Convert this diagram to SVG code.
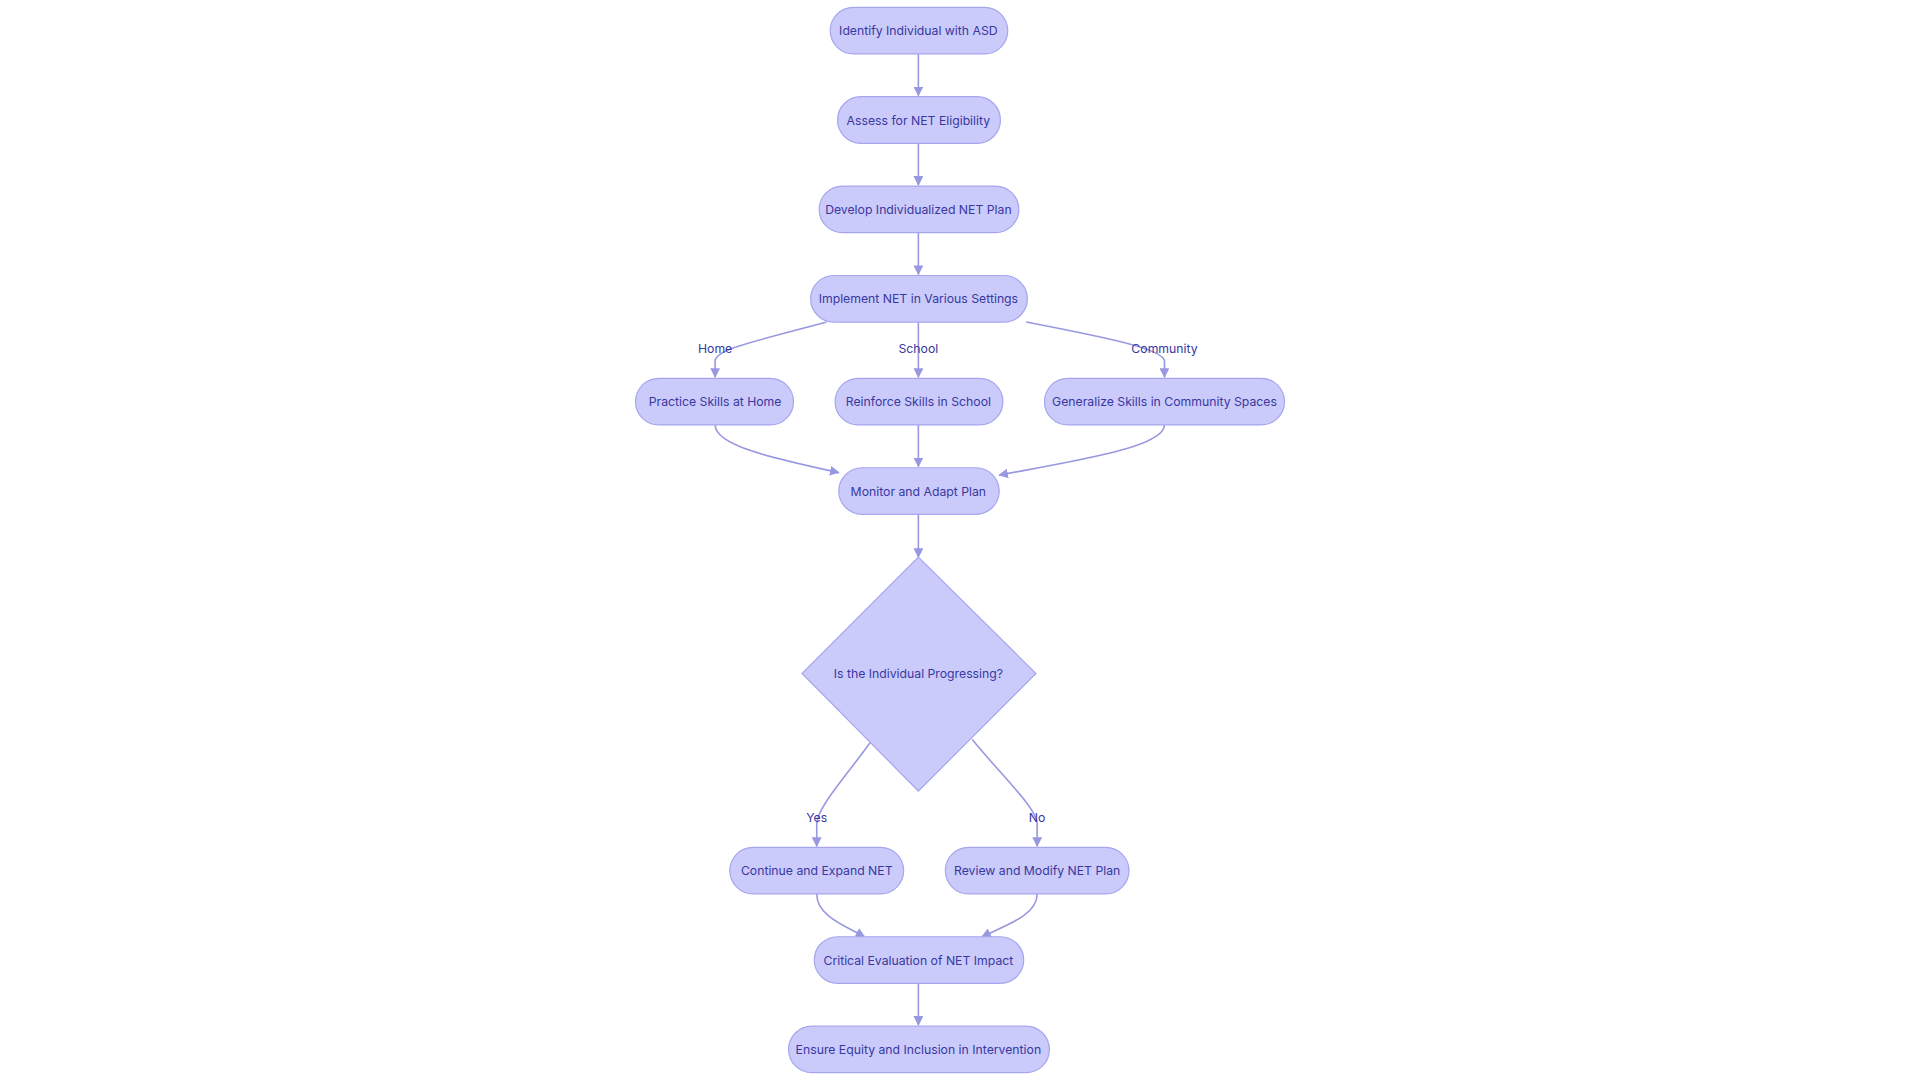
<svg xmlns="http://www.w3.org/2000/svg" width="1920" height="1080" viewBox="0 0 1920 1080">
<defs>
<marker id="ah" viewBox="0 0 10 10" refX="9" refY="5" markerWidth="8" markerHeight="8" markerUnits="userSpaceOnUse" orient="auto"><path d="M0,0 L10,5 L0,10 z" fill="#9898e0"/></marker>
<style>
.n rect,.n polygon{fill:#cbcbfb;stroke:#a6a6ee;stroke-width:1}
text{font-family:Inter,"Noto Sans",sans-serif;font-size:10px;fill:#3838a0;text-anchor:middle;dominant-baseline:central}
.e path{fill:none;stroke:#9898e0;stroke-width:1.3;marker-end:url(#ah)}
</style>
</defs>
<rect width="1920" height="1080" fill="#fff"/>
<g transform="scale(1.2245)">
<g class="e">
<path d="M750,44 V78"/><path d="M750,117 V151"/><path d="M750,190 V224"/>
<path d="M675,263 C620,278 584,285 584,295 V308"/>
<path d="M750,263 V308"/>
<path d="M838,263 C900,275 951,285 951,295 V308"/>
<path d="M584,347 C584,365 640,376 685,386"/>
<path d="M750,347 V381"/>
<path d="M951,347 C951,365 880,376 816,388"/>
<path d="M750,420 V455"/>
<path d="M711,606 C690,635 667,660 667,673 V691"/>
<path d="M794,604 C815,630 847,660 847,673 V691"/>
<path d="M667,730 C667,748 690,756 706,765"/>
<path d="M847,730 C847,748 820,756 802,765"/>
<path d="M750,803 V837"/>
</g>
<g>
<text x="584" y="285">Home</text><text x="750" y="285">School</text><text x="951" y="285">Community</text>
<text x="667" y="668">Yes</text><text x="847" y="668">No</text>
</g>
<g id="n1" class="n"><rect x="678" y="6" width="145" height="38" rx="19"/><text x="750" y="25">Identify Individual with ASD</text></g>
<g id="n2" class="n"><rect x="684" y="79" width="133" height="38" rx="19"/><text x="750" y="98">Assess for NET Eligibility</text></g>
<g id="n3" class="n"><rect x="669" y="152" width="163" height="38" rx="19"/><text x="750" y="171">Develop Individualized NET Plan</text></g>
<g id="n4" class="n"><rect x="662" y="225" width="177" height="38" rx="19"/><text x="750" y="244">Implement NET in Various Settings</text></g>
<g id="n5" class="n"><rect x="519" y="309" width="129" height="38" rx="19"/><text x="584" y="328">Practice Skills at Home</text></g>
<g id="n6" class="n"><rect x="682" y="309" width="137" height="38" rx="19"/><text x="750" y="328">Reinforce Skills in School</text></g>
<g id="n7" class="n"><rect x="853" y="309" width="196" height="38" rx="19"/><text x="951" y="328">Generalize Skills in Community Spaces</text></g>
<g id="n8" class="n"><rect x="685" y="382" width="131" height="38" rx="19"/><text x="750" y="401">Monitor and Adapt Plan</text></g>
<g id="n9" class="n"><polygon points="750,455 846,550 750,646 655,550"/><text x="750" y="550">Is the Individual Progressing?</text></g>
<g id="n10" class="n"><rect x="596" y="692" width="142" height="38" rx="19"/><text x="667" y="711">Continue and Expand NET</text></g>
<g id="n11" class="n"><rect x="772" y="692" width="150" height="38" rx="19"/><text x="847" y="711">Review and Modify NET Plan</text></g>
<g id="n12" class="n"><rect x="665" y="765" width="171" height="38" rx="19"/><text x="750" y="784">Critical Evaluation of NET Impact</text></g>
<g id="n13" class="n"><rect x="644" y="838" width="213" height="38" rx="19"/><text x="750" y="857">Ensure Equity and Inclusion in Intervention</text></g>
</g>
</svg>
